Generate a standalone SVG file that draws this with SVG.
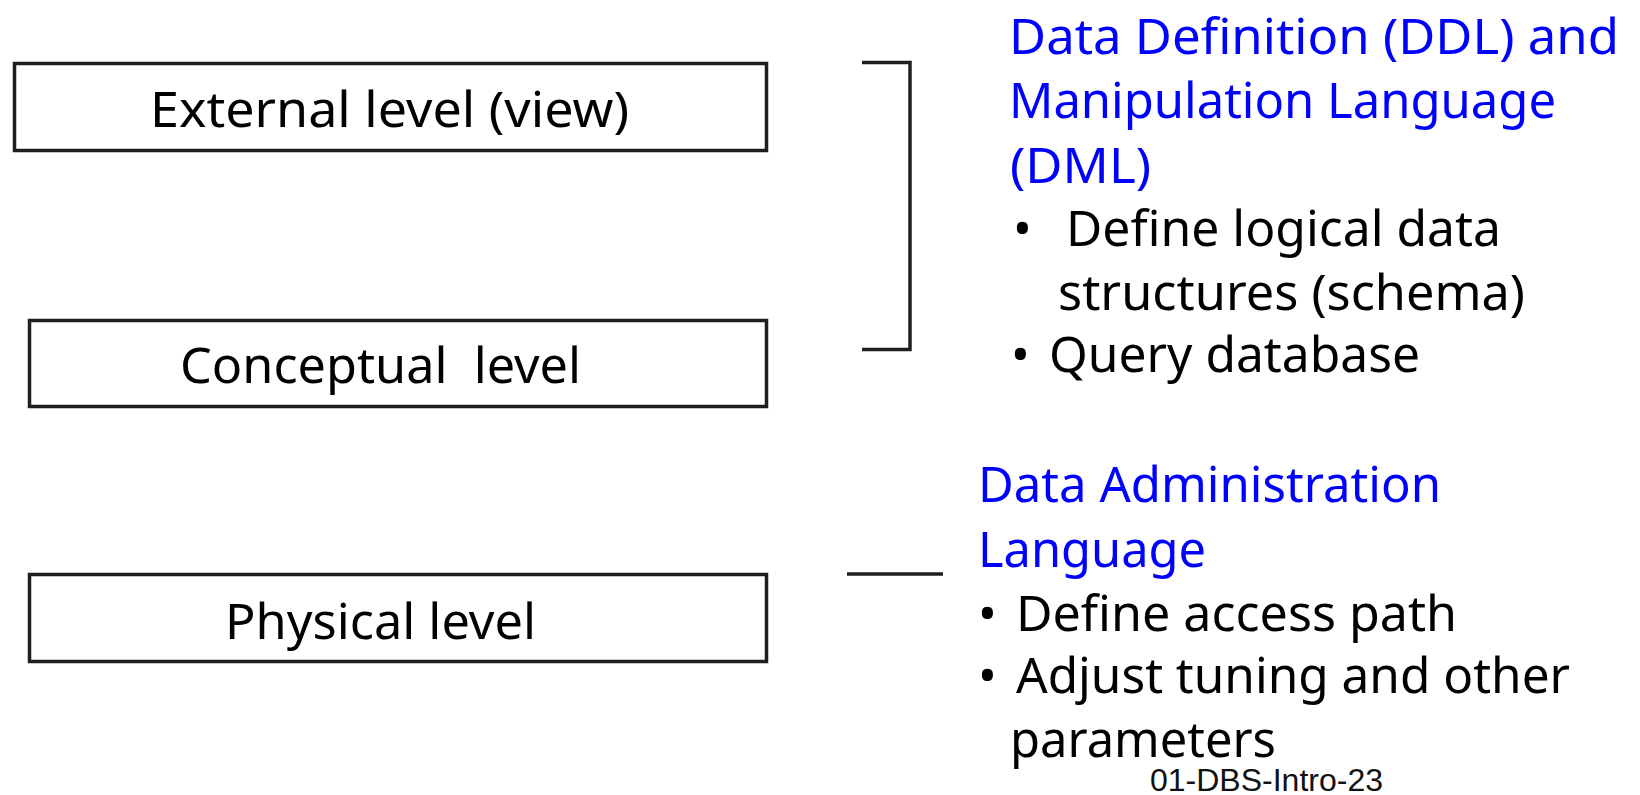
<svg xmlns="http://www.w3.org/2000/svg" width="1640" height="795" viewBox="0 0 1640 795">
  <style>
    .box { fill: #ffffff; stroke: #1f1f1f; stroke-width: 3.5; }
    .conn { fill: none; stroke: #1f1f1f; stroke-width: 3.5; }
    .t { font-family: "Noto Sans", "Open Sans", "Liberation Sans", sans-serif; font-size: 50px; fill: #000000; white-space: pre; }
    .h { fill: #0000ff; }
    .foot { font-family: "Liberation Sans", Arial, sans-serif; font-size: 32px; fill: #111111; }
  </style>
  <rect width="1640" height="795" fill="#ffffff"/>

  <!-- schema levels -->
  <g id="external-level">
    <rect class="box" x="14.5" y="63.5" width="752" height="87"/>
    <text class="t" x="150" y="127" textLength="479" lengthAdjust="spacingAndGlyphs">External level (view)</text>
  </g>
  <g id="conceptual-level">
    <rect class="box" x="29.5" y="320.5" width="737" height="86"/>
    <text class="t" x="180" y="383" textLength="401" lengthAdjust="spacingAndGlyphs">Conceptual  level</text>
  </g>
  <g id="physical-level">
    <rect class="box" x="29.5" y="574.5" width="737" height="87"/>
    <text class="t" x="225" y="639" textLength="311" lengthAdjust="spacingAndGlyphs">Physical level</text>
  </g>

  <!-- brackets tying levels to their languages -->
  <g id="connectors">
    <path class="conn" d="M862 62.5 H910 V349.5 H862"/>
    <path class="conn" d="M847 574 H943"/>
  </g>

  <!-- DDL / DML description -->
  <g id="ddl-dml">
    <text class="t h" x="1009" y="54" textLength="610" lengthAdjust="spacingAndGlyphs">Data Definition (DDL) and</text>
    <text class="t h" x="1009" y="118" textLength="547" lengthAdjust="spacingAndGlyphs">Manipulation Language</text>
    <text class="t h" x="1010" y="183" textLength="141" lengthAdjust="spacingAndGlyphs">(DML)</text>
    <text class="t" x="1013" y="246">•</text>
    <text class="t" x="1066" y="246" textLength="435" lengthAdjust="spacingAndGlyphs">Define logical data</text>
    <text class="t" x="1058" y="310" textLength="467" lengthAdjust="spacingAndGlyphs">structures (schema)</text>
    <text class="t" x="1011" y="372">•</text>
    <text class="t" x="1049" y="372" textLength="371" lengthAdjust="spacingAndGlyphs">Query database</text>
  </g>

  <!-- Data administration description -->
  <g id="dal">
    <text class="t h" x="978" y="502" textLength="463" lengthAdjust="spacingAndGlyphs">Data Administration</text>
    <text class="t h" x="978" y="567" textLength="228" lengthAdjust="spacingAndGlyphs">Language</text>
    <text class="t" x="978" y="631">•</text>
    <text class="t" x="1016" y="631" textLength="441" lengthAdjust="spacingAndGlyphs">Define access path</text>
    <text class="t" x="978" y="693">•</text>
    <text class="t" x="1016" y="693" textLength="554" lengthAdjust="spacingAndGlyphs">Adjust tuning and other</text>
    <text class="t" x="1010" y="757" textLength="266" lengthAdjust="spacingAndGlyphs">parameters</text>
  </g>

  <text class="foot" x="1150" y="791" textLength="233" lengthAdjust="spacingAndGlyphs">01-DBS-Intro-23</text>
</svg>
